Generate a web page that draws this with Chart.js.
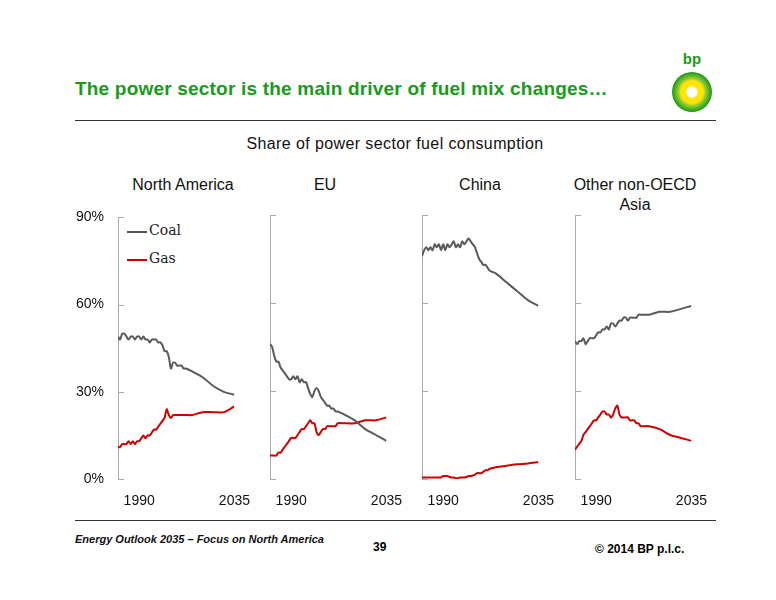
<!DOCTYPE html>
<html>
<head>
<meta charset="utf-8">
<script src="https://cdn.jsdelivr.net/npm/chart.js@4"></script>
<style>
  body { margin: 0; width: 776px; height: 600px; background: #fff; position: relative; font-family: "Liberation Sans", Arial, sans-serif; overflow: hidden; }
  .abs { position: absolute; }
  #title { left: 75px; top: 78px; font-size: 19px; color: #1a9a1a; font-weight: bold; letter-spacing: 0.2px; }
  .rule { left: 75px; width: 641px; height: 1px; background: #333; }
  #sub { left: 0; width: 790px; text-align: center; top: 135px; font-size: 16px; color: #111; letter-spacing: 0.4px; }
  .ptitle { top: 175px; font-size: 16px; color: #111; text-align: center; width: 150px; line-height: 20px; }
  canvas { position: absolute; }
  .leg { font-family: "DejaVu Serif", "Liberation Serif", serif; font-size: 14px; color: #222; }
  .legline { height: 2px; width: 20px; }
  #foot { left: 75px; top: 533px; font-size: 11px; font-style: italic; font-weight: bold; color: #111; }
  #pg { left: 373px; top: 540px; font-size: 12px; font-weight: bold; }
  #copy { left: 595px; top: 542px; font-size: 12px; font-weight: bold; }
  #logo { left: 672px; top: 72px; width: 40px; height: 40px; border-radius: 50%;
    background: radial-gradient(circle, #fff 0 18%, #ffe600 22% 40%, #9acd32 48%, #1a9a1a 70%, #fff 74%); }
  #bp { left: 672px; top: 50px; width: 40px; text-align: center; color: #1a9a1a; font-size: 15px; font-weight: bold; }
</style>
</head>
<body>
<div id="bp" class="abs">bp</div>
<div id="logo" class="abs"></div>
<div id="title" class="abs">The power sector is the main driver of fuel mix changes…</div>
<div class="abs rule" style="top:120px"></div>
<div id="sub" class="abs">Share of power sector fuel consumption</div>
<div class="abs ptitle" style="left:108px">North America</div>
<div class="abs ptitle" style="left:250px">EU</div>
<div class="abs ptitle" style="left:405px">China</div>
<div class="abs ptitle" style="left:560px">Other non-OECD<br>Asia</div>
<div class="abs legline" style="left:127px;top:231px;background:#555"></div>
<div class="abs leg" style="left:149px;top:222px">Coal</div>
<div class="abs legline" style="left:127px;top:259px;background:#cc0000"></div>
<div class="abs leg" style="left:149px;top:250px">Gas</div>
<div class="abs rule" style="top:520px"></div>
<div id="foot" class="abs">Energy Outlook 2035 – Focus on North America</div>
<div id="pg" class="abs">39</div>
<div id="copy" class="abs">© 2014 BP p.l.c.</div>

<canvas id="c0"></canvas>
<canvas id="c1"></canvas>
<canvas id="c2"></canvas>
<canvas id="c3"></canvas>

<script>
const years = [1980,1981,1982,1983,1984,1985,1986,1987,1988,1989,1990,1991,1992,1993,1994,1995,1996,1997,1998,1999,2000,2001,2002,2003,2004,2005,2006,2007,2008,2009,2010,2011,2012,2015,2020,2025,2030,2035];
const regions = ["North America", "EU", "China", "Other non-OECD Asia"];
const yTicks = [0, 30, 60, 90];

const naCoal = [49,48,50,50,49,48,49,49,48,49,49,48,49,48,48,47,48,48,48,47,47,46,44,44,42,38,40,40,39,39,39,38,38,37,35,32,30,29];
const naGas  = [11,11,12,12,12,13,12,13,12,13,13,14,15,14,15,15,16,17,17,18,19,20,21,24,22,21,22,22,22,22,22,22,22,22,23,23,23,25];
const euCoal = [46,45,42,40,40,38,37,36,35,34,34,35,34,35,33,34,33,33,31,29,28,30,31,30,28,27,26,25,25,24,24,23,23,22,20,17,15,13];
const euGas  = [8,8,8,8,9,9,10,11,12,13,14,14,14,15,16,17,17,18,19,20,19,19,16,15,16,17,17,18,18,18,18,18,19,19,19,20,20,21];
const cnCoal = [76,78,79,78,79,78,80,79,80,78,80,78,80,79,80,81,79,80,79,81,80,81,82,81,80,79,77,75,74,73,73,72,71,70,67,64,61,59];
const cnGas  = [0.5,0.5,0.5,0.5,0.5,0.5,0.5,0.5,0.5,0.5,1,1,1,0.7,0.5,0.5,0.3,0.3,0.5,0.5,0.5,0.7,1,1,1.2,1.5,2,2,2,2.5,3,3,3.5,4,4.5,5,5.3,5.8];
const asCoal = [47,46,47,47,48,46,47,48,48,48,49,50,50,51,51,52,51,53,53,52,53,54,54,55,55,54,55,55,55,55,56,56,56,56,57,57,58,59];
const asGas  = [10,11,12,13,15,16,17,18,19,20,20,21,22,23,23,22,22,21,22,24,25,22,21,21,21,21,20,20,20,19,19,18,18,18,17,15,14,13];

const coalSeries = [naCoal, euCoal, cnCoal, asCoal];
const gasSeries = [naGas, euGas, cnGas, asGas];
const plotLefts = [118, 270, 422, 575];

// short inner tick marks on the y axis
const innerTicks = {
  id: 'innerTicks',
  afterDraw(chart) {
    const c = chart.ctx, y = chart.scales.y, x0 = chart.chartArea.left;
    c.save();
    c.strokeStyle = '#aaa';
    c.lineWidth = 1;
    yTicks.forEach(v => {
      const py = Math.round(y.getPixelForValue(v)) + 0.5;
      c.beginPath(); c.moveTo(x0, py); c.lineTo(x0 + 6, py); c.stroke();
    });
    c.restore();
  }
};

regions.forEach((name, i) => {
  const yW = i === 0 ? 58 : 0;
  const cv = document.getElementById('c' + i);
  cv.style.left = (plotLefts[i] - yW) + 'px';
  cv.style.top = '203px';
  cv.style.width = (yW + 138) + 'px';
  cv.style.height = '307px';
  new Chart(cv, {
    type: 'line',
    data: {
      datasets: [
        { label: 'Coal', data: years.map((x, k) => ({ x, y: coalSeries[i][k] })), borderColor: '#5a5a5a', borderWidth: 2, pointRadius: 0, tension: 0.3 },
        { label: 'Gas', data: years.map((x, k) => ({ x, y: gasSeries[i][k] })), borderColor: '#cc0000', borderWidth: 2, pointRadius: 0, tension: 0.3 }
      ]
    },
    options: {
      responsive: false, maintainAspectRatio: false, animation: false,
      layout: { padding: { top: 12, right: 0, left: 0, bottom: 0 } },
      plugins: { legend: { display: false }, tooltip: { enabled: false } },
      scales: {
        x: {
          type: 'linear', min: 1980, max: 2035,
          afterBuildTicks: s => { s.ticks = [{ value: 1990 }, { value: 2035 }]; },
          afterFit: s => { s.height = 31; },
          grid: { display: false }, border: { display: false },
          ticks: { color: '#111', font: { size: 14, family: 'Liberation Sans' }, maxRotation: 0, padding: 6, callback: v => String(v) }
        },
        y: {
          min: 0, max: 90,
          afterBuildTicks: s => { s.ticks = yTicks.map(v => ({ value: v })); },
          afterFit: s => { s.width = yW; },
          grid: { display: false },
          border: { display: true, color: '#aaa' },
          ticks: { display: i === 0, color: '#111', font: { size: 14, family: 'Liberation Sans' }, padding: 6, callback: v => v + '%' }
        }
      }
    },
    plugins: [innerTicks]
  });
});
</script>
</body>
</html>
